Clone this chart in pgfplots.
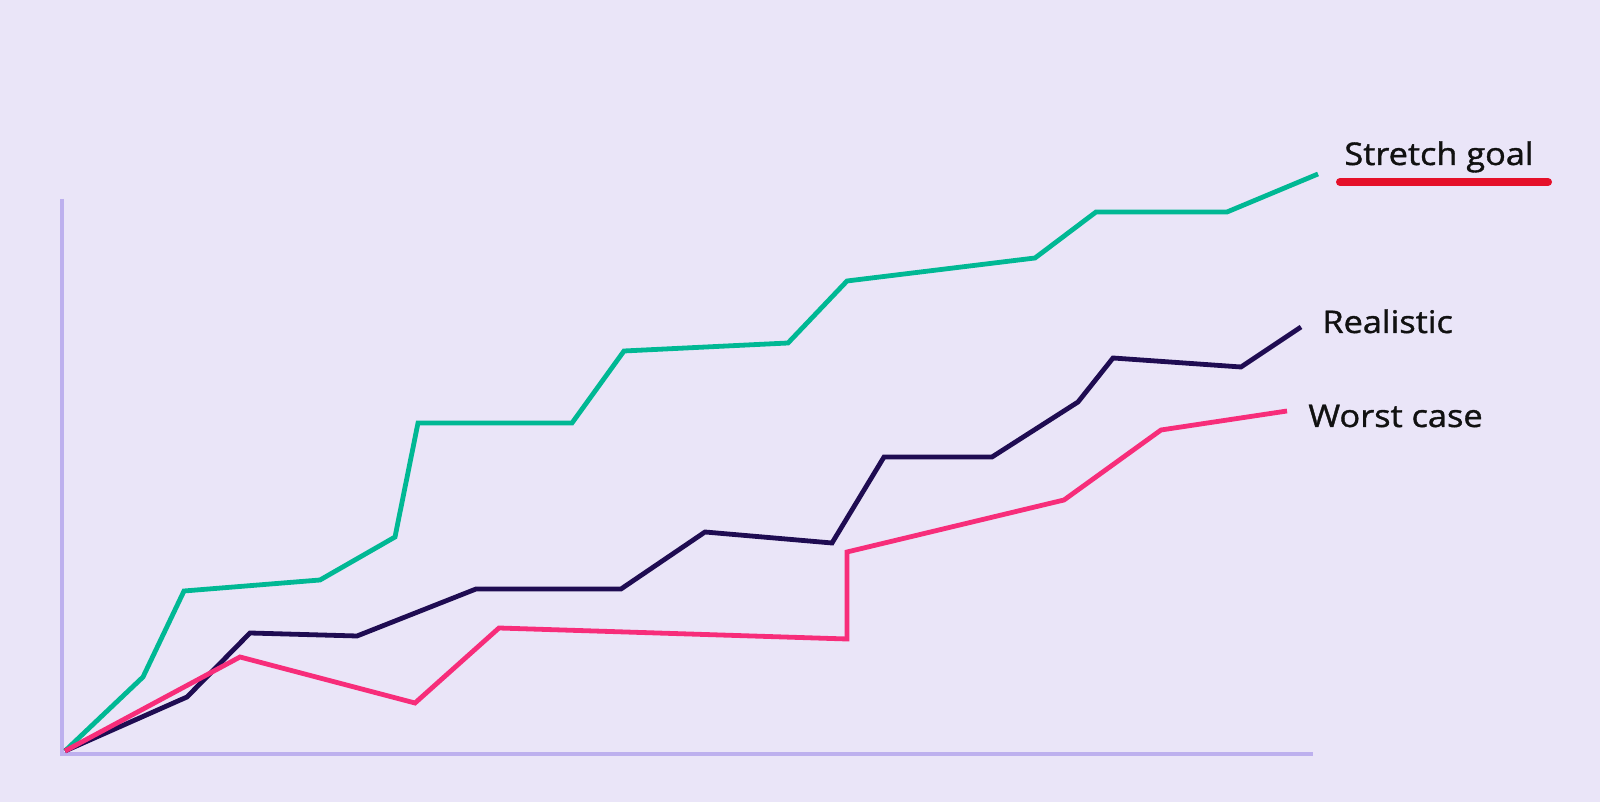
\documentclass[border=0pt]{standalone}
\usepackage{pgfplots}
\pgfplotsset{compat=1.18}
\usepackage{fontspec}
\setmainfont{Open Sans}[FakeStretch=1.1, FakeBold=1.2]
\definecolor{bgcol}{HTML}{EAE5F8}
\definecolor{axcol}{HTML}{BDB0EE}
\definecolor{grn}{HTML}{00B894}
\definecolor{navy}{HTML}{1F0C52}
\definecolor{pnk}{HTML}{F72D7A}
\definecolor{redline}{HTML}{E5102A}
\definecolor{txt}{HTML}{111111}
\begin{document}
\begin{tikzpicture}
\begin{axis}[
  scale only axis,
  width=800pt, height=401pt,
  xmin=0, xmax=1600, ymin=0, ymax=802,
  axis lines=none, ticks=none,
  clip=false,
]
\fill[bgcol] (axis cs:0,0) rectangle (axis cs:1600,802);
\draw[axcol, line width=1.6pt] (axis cs:62,603) -- (axis cs:62,48) -- (axis cs:1313,48);
\addplot[grn, line width=2.4pt, mark=none] coordinates {
(65,51) (143,125) (184,211) (320,222) (395,265) (418,379) (572,379) (624,451) (788,459) (847,521) (1035,544) (1096,590) (1227,590) (1318,628)};
\addplot[navy, line width=2.4pt, mark=none] coordinates {
(65,51) (187,105) (250,169) (357,166) (476,213) (621,213) (705,270) (832,259) (884,345) (992,345) (1078,400) (1113,444) (1241,435) (1301,475)};
\addplot[pnk, line width=2.4pt, mark=none] coordinates {
(65,51) (240,145) (415,99) (499,174) (847,163) (847,250) (1064,302) (1161,372) (1287,391)};
\draw[redline, line width=4pt, line cap=round] (axis cs:1340,620) -- (axis cs:1548,620);
\node[anchor=base west, inner sep=0, text=txt, font=\fontsize{15.6pt}{18pt}\selectfont] at (axis cs:1344,637) {Stretch goal};
\node[anchor=base west, inner sep=0, text=txt, font=\fontsize{15.6pt}{18pt}\selectfont] at (axis cs:1322,469) {Realistic};
\node[anchor=base west, inner sep=0, text=txt, font=\fontsize{15.6pt}{18pt}\selectfont] at (axis cs:1308,375) {Worst case};
\end{axis}
\end{tikzpicture}
\end{document}
